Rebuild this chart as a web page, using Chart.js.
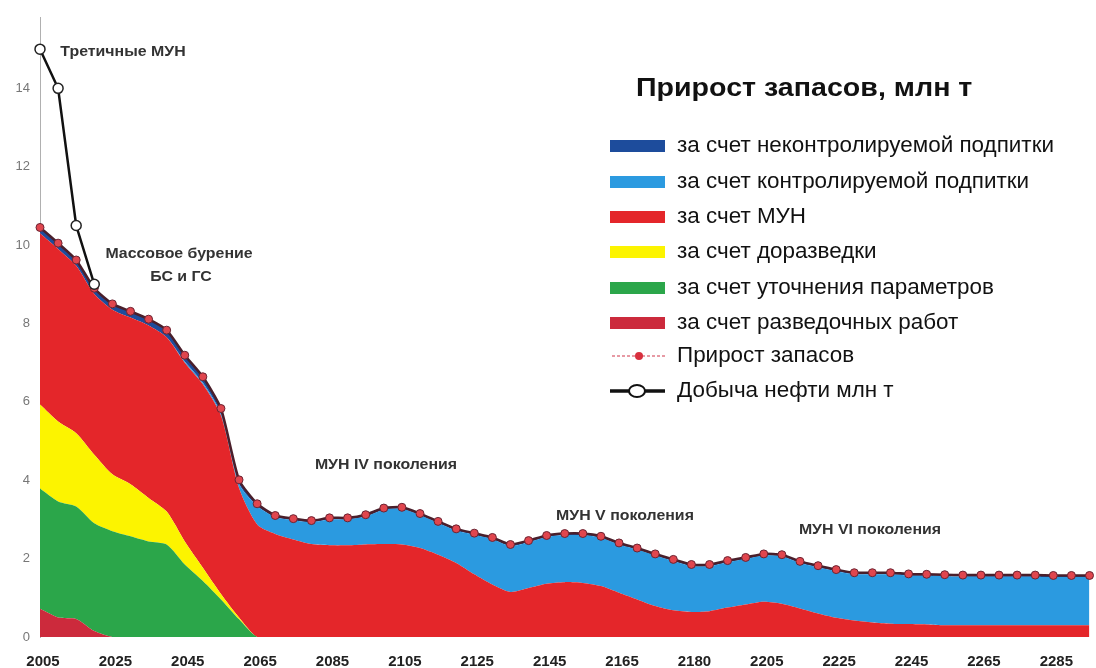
<!DOCTYPE html>
<html>
<head>
<meta charset="utf-8">
<script src="https://cdn.jsdelivr.net/npm/chart.js@4.4.1/dist/chart.umd.min.js"></script>
<style>
  body { margin: 0; background: #fff; }
  canvas { display: block; }
</style>
</head>
<body>
<canvas id="chart" width="1096" height="668"></canvas>
<script>
const years = [2005, 2010, 2015, 2020, 2025, 2030, 2035, 2040, 2045, 2050,
  2055, 2060, 2065, 2070, 2075, 2080, 2085, 2090, 2095, 2100,
  2105, 2110, 2115, 2120, 2125, 2130, 2135, 2140, 2145, 2150,
  2155, 2160, 2165, 2170, 2175, 2180, 2185, 2190, 2195, 2200,
  2205, 2210, 2215, 2220, 2225, 2230, 2235, 2240, 2245, 2250,
  2255, 2260, 2265, 2270, 2275, 2280, 2285, 2290, 2295];

// every 4th category gets a label (the source chart has "2180" where 2185 belongs)
const tickLabels = ['2005', '2025', '2045', '2065', '2085', '2105', '2125', '2145',
  '2165', '2180', '2205', '2225', '2245', '2265', '2285'];

// stacked layers, bottom to top
const exploration = [0.72, 0.5, 0.46, 0.15, 0, 0, 0, 0, 0, 0,
  0, 0, 0, 0, 0, 0, 0, 0, 0, 0, 0, 0, 0, 0, 0, 0, 0, 0, 0, 0,
  0, 0, 0, 0, 0, 0, 0, 0, 0, 0, 0, 0, 0, 0, 0, 0, 0, 0, 0, 0,
  0, 0, 0, 0, 0, 0, 0, 0, 0];
const refinement = [3.07, 2.96, 2.87, 2.75, 2.7, 2.57, 2.44, 2.36, 1.85, 1.43,
  0.96, 0.45, 0, 0, 0, 0, 0, 0, 0, 0, 0, 0, 0, 0, 0, 0, 0, 0, 0, 0,
  0, 0, 0, 0, 0, 0, 0, 0, 0, 0, 0, 0, 0, 0, 0, 0, 0, 0, 0, 0,
  0, 0, 0, 0, 0, 0, 0, 0, 0];
const additionalExploration = [2.14, 2.04, 1.87, 1.75, 1.45, 1.33, 1.11, 0.84, 0.59, 0.34,
  0.14, 0.05, 0, 0, 0, 0, 0, 0, 0, 0, 0, 0, 0, 0, 0, 0, 0, 0, 0, 0,
  0, 0, 0, 0, 0, 0, 0, 0, 0, 0, 0, 0, 0, 0, 0, 0, 0, 0, 0, 0,
  0, 0, 0, 0, 0, 0, 0, 0, 0];
const eor = [4.37, 4.4, 4.27, 4.1, 4.2, 4.25, 4.4, 4.45, 4.56, 4.68,
  4.55, 3.3, 2.87, 2.63, 2.49, 2.37, 2.34, 2.34, 2.36, 2.37,
  2.36, 2.27, 2.1, 1.89, 1.6, 1.34, 1.15, 1.25, 1.36, 1.4,
  1.38, 1.3, 1.13, 0.96, 0.79, 0.68, 0.64, 0.66, 0.75, 0.83,
  0.9, 0.85, 0.73, 0.6, 0.49, 0.42, 0.37, 0.34, 0.33, 0.32,
  0.3, 0.3, 0.3, 0.3, 0.3, 0.3, 0.3, 0.3, 0.3];
const controlledRecharge = [0, 0, 0, 0, 0, 0, 0, 0, 0.03, 0.04,
  0.05, 0.11, 0.47, 0.43, 0.49, 0.56, 0.66, 0.66, 0.72, 0.88,
  0.91, 0.84, 0.81, 0.83, 1.01, 1.16, 1.17, 1.17, 1.19, 1.2,
  1.22, 1.23, 1.23, 1.27, 1.29, 1.26, 1.17, 1.15, 1.16, 1.16,
  1.18, 1.21, 1.16, 1.18, 1.19, 1.18, 1.23, 1.26, 1.24, 1.24,
  1.25, 1.24, 1.24, 1.24, 1.24, 1.24, 1.23, 1.23, 1.23];
const uncontrolledRecharge = [0.15, 0.15, 0.15, 0.15, 0.15, 0.15, 0.15, 0.15, 0.16, 0.15,
  0.13, 0.1, 0.06, 0.04, 0.04, 0.04, 0.04, 0.04, 0.04, 0.04,
  0.04, 0.04, 0.04, 0.04, 0.04, 0.04, 0.04, 0.04, 0.04, 0.04,
  0.04, 0.04, 0.04, 0.04, 0.04, 0.04, 0.04, 0.04, 0.04, 0.04,
  0.04, 0.04, 0.04, 0.04, 0.04, 0.04, 0.04, 0.04, 0.04, 0.04,
  0.04, 0.04, 0.04, 0.04, 0.04, 0.04, 0.04, 0.04, 0.04];

// lines
const reserveGrowth = [10.45, 10.05, 9.62, 8.9, 8.5, 8.31, 8.11, 7.83, 7.19, 6.64,
  5.83, 4.01, 3.4, 3.1, 3.02, 2.97, 3.04, 3.04, 3.12, 3.29,
  3.31, 3.15, 2.95, 2.76, 2.65, 2.54, 2.36, 2.46, 2.59, 2.64,
  2.64, 2.57, 2.4, 2.27, 2.12, 1.98, 1.85, 1.85, 1.95, 2.03,
  2.12, 2.1, 1.93, 1.82, 1.72, 1.64, 1.64, 1.64, 1.61, 1.6,
  1.59, 1.58, 1.58, 1.58, 1.58, 1.58, 1.57, 1.57, 1.57];
const oilProduction = [15.0, 14.0, 10.5, 9.0];

const notes = [
  { text: 'Третичные МУН', x: 123, y: 52 },
  { text: 'Массовое бурение', x: 179, y: 254 },
  { text: 'БС и ГС', x: 181, y: 277 },
  { text: 'МУН IV поколения', x: 386, y: 465 },
  { text: 'МУН V поколения', x: 625, y: 516 },
  { text: 'МУН VI поколения', x: 870, y: 530 }
];

const FONT = '"Liberation Sans", Arial, sans-serif';

const area = (label, data, color, fill) => ({
  label: label,
  data: data,
  backgroundColor: color,
  borderWidth: 0,
  pointRadius: 0,
  tension: 0.25,
  fill: fill,
  stack: 'layers',
  isArea: true
});

const datasets = [
  {
    label: 'Добыча нефти млн т',
    data: oilProduction,
    borderColor: '#111',
    borderWidth: 2.5,
    pointRadius: 5,
    pointBackgroundColor: '#fff',
    pointBorderColor: '#222',
    pointBorderWidth: 1.5,
    fill: false,
    stack: 'prod',
    tension: 0
  },
  {
    label: 'Прирост запасов',
    data: reserveGrowth,
    borderColor: '#4a1f2b',
    borderWidth: 2.5,
    pointRadius: 4,
    pointBackgroundColor: '#e0464e',
    pointBorderColor: '#6b2433',
    pointBorderWidth: 1,
    fill: false,
    stack: 'total',
    tension: 0.2
  },
  area('за счет разведочных работ', exploration, '#cc2a3c', 'origin'),
  area('за счет уточнения параметров', refinement, '#2ba64a', '-1'),
  area('за счет доразведки', additionalExploration, '#fcf400', '-1'),
  area('за счет МУН', eor, '#e4262a', '-1'),
  area('за счет контролируемой подпитки', controlledRecharge, '#2b9ae0', '-1'),
  area('за счет неконтролируемой подпитки', uncontrolledRecharge, '#1d4c9c', '-1')
];

const legendRows = [146, 182, 217, 252, 288, 323, 356, 391];

// text in the source is a bit wider than Liberation Sans, so stretch it horizontally
function wideText(ctx, text, x, y, sx) {
  ctx.save();
  ctx.translate(x, y);
  ctx.scale(sx, 1);
  ctx.fillText(text, 0, 0);
  ctx.restore();
}

const drawExtras = {
  id: 'extras',
  afterDatasetsDraw(chart) {
    const ctx = chart.ctx;
    ctx.save();
    ctx.textBaseline = 'middle';

    // annotations
    ctx.font = 'bold 15px ' + FONT;
    ctx.fillStyle = '#333';
    ctx.textAlign = 'center';
    for (const n of notes) wideText(ctx, n.text, n.x, n.y, 1.06);

    // title
    ctx.font = 'bold 26px ' + FONT;
    ctx.fillStyle = '#111';
    ctx.textAlign = 'left';
    wideText(ctx, 'Прирост запасов, млн т', 636, 89, 1.1);

    // legend: areas top-down, then the two lines
    const ds = chart.data.datasets;
    const order = [7, 6, 5, 4, 3, 2, 1, 0];
    ctx.font = '22px ' + FONT;
    order.forEach((k, r) => {
      const y = legendRows[r];
      const d = ds[k];
      if (d.isArea) {
        ctx.fillStyle = d.backgroundColor;
        ctx.fillRect(610, y - 6, 55, 12);
      } else if (k === 1) {
        ctx.strokeStyle = '#e07a86';
        ctx.lineWidth = 1.5;
        ctx.setLineDash([3, 2]);
        ctx.beginPath(); ctx.moveTo(612, y); ctx.lineTo(665, y); ctx.stroke();
        ctx.setLineDash([]);
        ctx.fillStyle = '#d8303e';
        ctx.beginPath(); ctx.arc(639, y, 4, 0, Math.PI * 2); ctx.fill();
      } else {
        ctx.strokeStyle = '#111';
        ctx.lineWidth = 3.5;
        ctx.beginPath(); ctx.moveTo(610, y); ctx.lineTo(665, y); ctx.stroke();
        ctx.fillStyle = '#fff';
        ctx.lineWidth = 2;
        ctx.beginPath(); ctx.ellipse(637, y, 8, 6, 0, 0, Math.PI * 2); ctx.fill(); ctx.stroke();
      }
      ctx.fillStyle = '#111';
      wideText(ctx, d.label, 677, y, 1.02);
    });
    ctx.restore();
  }
};

new Chart(document.getElementById('chart').getContext('2d'), {
  type: 'line',
  data: { labels: years, datasets: datasets },
  options: {
    responsive: false,
    animation: false,
    layout: { padding: { top: 16, right: 6 } },
    plugins: {
      legend: { display: false },
      tooltip: { enabled: false }
    },
    scales: {
      x: {
        type: 'category',
        offset: false,
        grid: { display: false, drawTicks: false },
        border: { display: false },
        ticks: {
          autoSkip: false,
          maxRotation: 0,
          labelOffset: 3,
          padding: 16,
          color: '#222',
          font: { family: FONT, size: 15, weight: 'bold' },
          callback: (v, i) => (i % 4 === 0 ? tickLabels[i / 4] : '')
        },
        afterFit(s) {
          s.height = 31;
          s.paddingLeft = 0;
          s.paddingRight = 0;
        }
      },
      y: {
        stacked: true,
        min: 0,
        max: 15.8,
        grid: { display: false, drawTicks: false },
        border: { display: true, color: '#b0b0b0', dash: [1, 2] },
        ticks: {
          stepSize: 2,
          includeBounds: false,
          padding: 10,
          color: '#777',
          font: { family: FONT, size: 13 }
        },
        afterFit(s) { s.width = 40; }
      }
    }
  },
  plugins: [drawExtras]
});
</script>
</body>
</html>
